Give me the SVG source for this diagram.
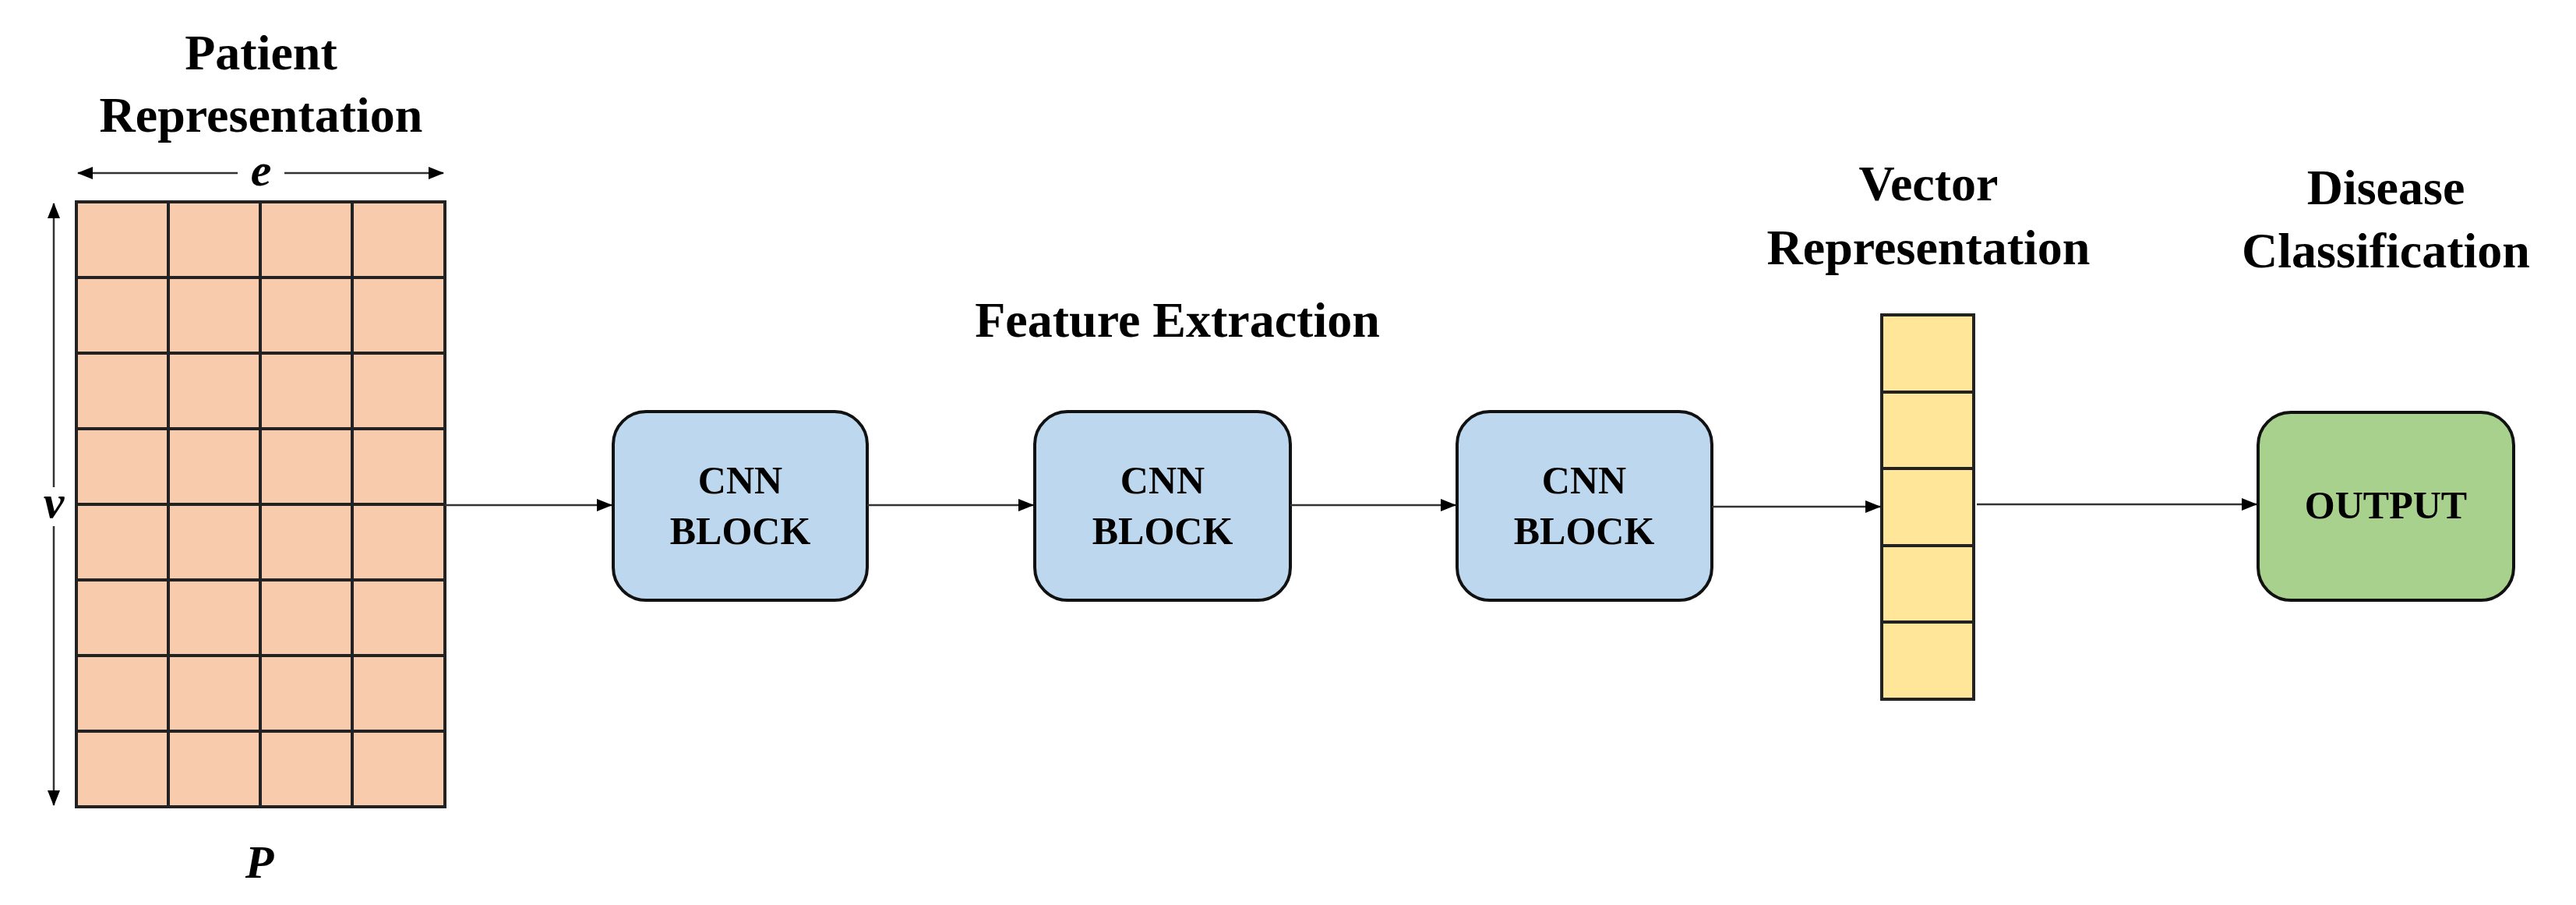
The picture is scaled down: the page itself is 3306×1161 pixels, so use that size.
<svg xmlns="http://www.w3.org/2000/svg" width="3306" height="1161" viewBox="0 0 3306 1161">
<style>
text{font-family:"Liberation Serif","DejaVu Serif",serif;font-weight:bold;fill:#000;text-anchor:middle}
.t{font-size:64px}
.b{font-size:50px}
.i{font-size:60px;font-style:italic}
.cell{fill:#F8CBAD;stroke:#222;stroke-width:4}
.vc{fill:#FFE699;stroke:#222;stroke-width:4}
.cnn{fill:#BDD7EE;stroke:#111;stroke-width:4}
.out{fill:#A9D18E;stroke:#111;stroke-width:4}
.c{stroke:#333;stroke-width:2.5;fill:none}
</style>
<defs>
<marker id="ah" markerWidth="10" markerHeight="10" refX="9" refY="5" orient="auto" markerUnits="userSpaceOnUse" viewBox="0 0 10 10"><path d="M0,0L10,5L0,10z" fill="#000"/></marker>
<marker id="ah2" markerWidth="20" markerHeight="16" refX="19" refY="8" orient="auto-start-reverse" markerUnits="userSpaceOnUse" viewBox="0 0 20 16"><path d="M0,0L20,8L0,16z" fill="#000"/></marker>
</defs>
<g id="patient">
<text class="t" x="335" y="89">Patient</text>
<text class="t" x="335" y="169">Representation</text>
<rect class="cell" x="98" y="259" width="473" height="776"/>
<path class="cell" fill="none" d="M216,259V1035M334,259V1035M452,259V1035M98,356H571M98,453H571M98,550H571M98,647H571M98,744H571M98,841H571M98,938H571"/>
<path class="c" d="M100,222H305M365,222H569" marker-start="url(#ah2)" marker-end="url(#ah2)"/>
<text class="i" x="335" y="238">e</text>
<path class="c" d="M69,261V625M69,675V1033" marker-start="url(#ah2)" marker-end="url(#ah2)"/>
<text class="i" x="69" y="664">v</text>
<text class="i" x="333" y="1126">P</text>
</g>
<text class="t" x="1511" y="432">Feature Extraction</text>
<g id="cnn1"><rect class="cnn" x="787" y="528" width="326" height="242" rx="42"/><text class="b" x="950" y="633">CNN</text><text class="b" x="950" y="698">BLOCK</text></g>
<g id="cnn2"><rect class="cnn" x="1328" y="528" width="328" height="242" rx="42"/><text class="b" x="1492" y="633">CNN</text><text class="b" x="1492" y="698">BLOCK</text></g>
<g id="cnn3"><rect class="cnn" x="1870" y="528" width="327" height="242" rx="42"/><text class="b" x="2033" y="633">CNN</text><text class="b" x="2033" y="698">BLOCK</text></g>
<g id="vector">
<text class="t" x="2475" y="257">Vector</text>
<text class="t" x="2475" y="339">Representation</text>
<rect class="vc" x="2415" y="404" width="118" height="493"/>
<path class="vc" d="M2415,503H2533M2415,601H2533M2415,700H2533M2415,798H2533"/>
</g>
<g id="output">
<text class="t" x="3062" y="262">Disease</text>
<text class="t" x="3062" y="343">Classification</text>
<rect class="out" x="2898" y="529" width="328" height="241" rx="42"/>
<text class="b" x="3062" y="665">OUTPUT</text>
</g>
<g id="connectors">
<path class="c" d="M571,648H785" marker-end="url(#ah2)"/>
<path class="c" d="M1113,648H1326" marker-end="url(#ah2)"/>
<path class="c" d="M1656,648H1868" marker-end="url(#ah2)"/>
<path class="c" d="M2197,650H2413" marker-end="url(#ah2)"/>
<path class="c" d="M2537,647H2896" marker-end="url(#ah2)"/>
</g>
</svg>
